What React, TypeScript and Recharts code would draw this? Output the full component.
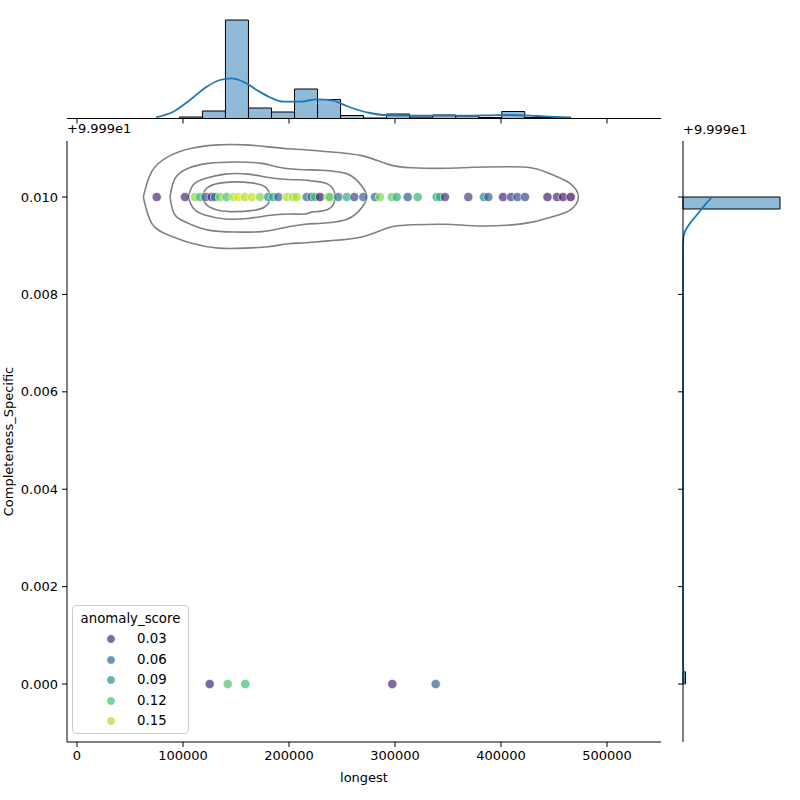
import React from "react";
import { ComposedChart, Scatter, Line, Bar, XAxis, YAxis } from "recharts";

// Values are stored as offsets from 99.99 (the axis shows "+9.999e1")
const UPPER = 0.01;
const LOWER = 0.0;

// points at the upper level: longest + anomaly score
const upperLongest = [
  75190, 101890, 111320, 116040, 121420, 127080, 130190, 134910, 141230, 147450,
  152170, 158490, 164810, 172640, 180470, 185190, 189910, 197830, 204060, 207270,
  216700, 221420, 224530, 229250, 237080, 238680, 246510, 254440, 261610, 270100,
  281130, 285850, 296890, 301600, 311980, 321420, 339340, 342450, 347170, 369150,
  383960, 388020, 401890, 409440, 415570, 422640, 443870, 452830, 458490, 465750,
];
const upperScore = [
  0.03, 0.03, 0.14, 0.12, 0.045, 0.025, 0.08, 0.14, 0.12, 0.15,
  0.16, 0.15, 0.155, 0.14, 0.09, 0.11, 0.06, 0.15, 0.145, 0.15,
  0.06, 0.07, 0.12, 0.02, 0.14, 0.13, 0.07, 0.11, 0.045, 0.06,
  0.065, 0.14, 0.13, 0.11, 0.055, 0.115, 0.1, 0.11, 0.035, 0.04,
  0.085, 0.06, 0.03, 0.04, 0.05, 0.045, 0.025, 0.03, 0.025, 0.015,
];

// points at the lower level
const lowerLongest = [125190, 142170, 158770, 297450, 338400];
const lowerScore = [0.03, 0.125, 0.12, 0.03, 0.06];

const legendScores = [0.03, 0.06, 0.09, 0.12, 0.15];

// density contours, [longest, level] pairs going round each ring
const ring1 = [
  [62550, 0.01], [70470, 0.01052], [86130, 0.01083], [108210, 0.011], [133300, 0.01107],
  [158490, 0.01107], [180470, 0.01103], [199340, 0.01099], [215090, 0.01097], [237080, 0.01093],
  [268590, 0.01085], [293680, 0.01067], [315760, 0.0106], [347170, 0.01059], [373870, 0.01061],
  [405380, 0.01062], [430470, 0.01059], [449340, 0.01045], [465100, 0.01028], [472930, 0.01],
  [465100, 0.00973], [449340, 0.0096], [430470, 0.00949], [405380, 0.00942], [373870, 0.00941],
  [347170, 0.00944], [315760, 0.00943], [293680, 0.00937], [268590, 0.00918], [237080, 0.0091],
  [215090, 0.00906], [199340, 0.00904], [180470, 0.00898], [158490, 0.00895], [133300, 0.00895],
  [108210, 0.00905], [86130, 0.00922], [70470, 0.00946], [62550, 0.01],
];
const ring2 = [
  [87740, 0.01], [92450, 0.01038], [105000, 0.01059], [123870, 0.01069], [149060, 0.01072],
  [174250, 0.01069], [193110, 0.0106], [215090, 0.01056], [230850, 0.01055], [252830, 0.01049],
  [265380, 0.01031], [273300, 0.01], [265380, 0.0097], [252830, 0.00953], [230850, 0.00946],
  [215090, 0.00944], [193110, 0.00936], [174250, 0.00929], [149060, 0.00928], [123870, 0.00932],
  [105000, 0.00946], [92450, 0.00963], [87740, 0.01],
];
const ring3 = [
  [105000, 0.01], [109720, 0.01025], [120750, 0.01038], [139620, 0.01047], [161600, 0.01047],
  [180470, 0.0104], [199340, 0.01036], [215090, 0.01035], [221420, 0.01033], [237080, 0.01026],
  [243400, 0.01], [237080, 0.00975], [221420, 0.00969], [215090, 0.00965], [199340, 0.00965],
  [180470, 0.00962], [161600, 0.00956], [139620, 0.00955], [120750, 0.00963], [109720, 0.00977],
  [105000, 0.01],
];
const ring4 = [
  [117640, 0.01], [122360, 0.01018], [133300, 0.01028], [149060, 0.01031], [164810, 0.01029],
  [177360, 0.01021], [182080, 0.01], [177360, 0.0098], [164810, 0.00972], [149060, 0.0097],
  [133300, 0.00973], [122360, 0.00984], [117640, 0.01],
];

// marginal histogram of longest
const histStart = 74900;
const histWidth = 21720;
const histCounts = [0, 3, 15, 197, 21, 13, 59, 38, 6, 1, 9, 3, 7, 5, 2, 14, 2, 2];
const kdeX = [
  74530, 90850, 106600, 122360, 134910, 145940, 156890, 169530, 182080, 194630, 210380, 226130,
  241790, 254440, 266980, 276420, 288970, 314150, 351890, 389620, 408490, 433680, 452550, 465800,
];
const kdeDens = [
  2.4, 13.6, 37, 63.6, 77, 80.4, 73.6, 57, 42.4, 33.6, 33.6, 38.4,
  35.6, 25, 16, 11, 7, 5.6, 5.6, 6.4, 7, 5, 3, 2.4,
];

// marginal histogram of Completeness_Specific, 40 bins from 0 to 0.010
const levelStart = 0;
const levelBinWidth = 0.00025;
const levelBinCounts = [
  5, 0, 0, 0, 0, 0, 0, 0, 0, 0,
  0, 0, 0, 0, 0, 0, 0, 0, 0, 0,
  0, 0, 0, 0, 0, 0, 0, 0, 0, 0,
  0, 0, 0, 0, 0, 0, 0, 0, 0, 194,
];
const levelKdeY = [0, 0.0003, 0.0006, 0.0085, 0.0088, 0.00915, 0.00929, 0.00946, 0.00963, 0.00984, 0.01];
const levelKdeDens = [1.4, 0.6, 0, 0, 0, 0.6, 4, 14, 27.4, 44, 58];

const xTicks = [0, 100000, 200000, 300000, 400000, 500000];
const yTicks = [0, 0.002, 0.004, 0.006, 0.008, 0.01];

const X_MIN = -9430;
const X_MAX = 550950;
const Y_MIN = -0.00119;
const Y_MAX = 0.01115;
const PLOT_W = 594;
const PLOT_H = 601;
const COUNT_MAX = 200;

const FONT = "DejaVu Sans";

const VIRIDIS = [
  "#440154", "#482475", "#414487", "#355f8d", "#2a788e", "#21918c",
  "#22a884", "#44bf70", "#7ad151", "#bddf26", "#fde725",
];
const SCORE_MIN = 0.011;
const SCORE_MAX = 0.169;

function viridis(score: number) {
  let t = (score - SCORE_MIN) / (SCORE_MAX - SCORE_MIN);
  t = Math.max(0, Math.min(1, t));
  const p = t * (VIRIDIS.length - 1);
  const i = Math.min(Math.floor(p), VIRIDIS.length - 2);
  const f = p - i;
  const a = VIRIDIS[i], b = VIRIDIS[i + 1];
  const ch = (h: string, k: number) => parseInt(h.slice(1 + k * 2, 3 + k * 2), 16);
  const mix = [0, 1, 2].map((k) => Math.round(ch(a, k) + (ch(b, k) - ch(a, k)) * f));
  return `rgb(${mix[0]},${mix[1]},${mix[2]})`;
}

const points = [
  ...upperLongest.map((x, i) => ({ x, y: UPPER, score: upperScore[i] })),
  ...lowerLongest.map((x, i) => ({ x, y: LOWER, score: lowerScore[i] })),
];
const toRing = (r: number[][]) => r.map(([x, y]) => ({ x, y }));
const rings = [ring1, ring2, ring3, ring4].map(toRing);

const histData = histCounts.map((count, i) => ({ bin: `b${i}`, count }));
const kdeData = kdeX.map((x, i) => ({ x, dens: kdeDens[i] }));
const levelHist = levelBinCounts.map((count, i) => ({ bin: `b${i}`, count }));
const levelKde = levelKdeY.map((y, i) => ({ y, dens: levelKdeDens[i] }));

// the bin bands sit on hidden category axes, padded so they line up with the value axes
const histPad = {
  left: ((histStart - X_MIN) * PLOT_W) / (X_MAX - X_MIN),
  right: ((X_MAX - (histStart + histCounts.length * histWidth)) * PLOT_W) / (X_MAX - X_MIN),
};
const levelPad = {
  top: ((Y_MAX - (levelStart + levelBinCounts.length * levelBinWidth)) * PLOT_H) / (Y_MAX - Y_MIN),
  bottom: ((levelStart - Y_MIN) * PLOT_H) / (Y_MAX - Y_MIN),
};

const tickStyle = { fill: "#000", fontSize: 13, fontFamily: FONT };

const Dot = (props: any) => (
  <circle
    cx={props.cx}
    cy={props.cy}
    r={4.6}
    fill={viridis(props.payload.score)}
    fillOpacity={0.7}
    stroke="#fff"
    strokeOpacity={0.7}
    strokeWidth={0.8}
  />
);

const layer: React.CSSProperties = { position: "absolute", left: 0, top: 0 };

export default function App() {
  return (
    <div style={{ position: "absolute", left: 0, top: 0, width: 800, height: 800, background: "#fff", fontFamily: FONT }}>
      {/* top marginal: histogram of longest */}
      <div style={layer}>
        <ComposedChart
          width={800}
          height={800}
          data={histData}
          barCategoryGap={0}
          margin={{ top: 18.5, right: 139, bottom: 671.5, left: 67 }}
        >
          <XAxis
            xAxisId="num"
            type="number"
            dataKey="x"
            domain={[X_MIN, X_MAX]}
            ticks={xTicks}
            tickFormatter={() => ""}
            tickSize={5}
            height={10}
            stroke="#000"
            allowDataOverflow
          />
          <XAxis xAxisId="bins" type="category" dataKey="bin" hide height={0} padding={histPad} />
          <YAxis hide type="number" domain={[0, COUNT_MAX]} />
          <Bar
            xAxisId="bins"
            dataKey="count"
            fill="#1f77b4"
            fillOpacity={0.5}
            stroke="#000"
            strokeWidth={1}
            isAnimationActive={false}
          />
          <Line
            xAxisId="num"
            data={kdeData}
            dataKey="dens"
            type="monotone"
            stroke="#1f77b4"
            strokeWidth={1.8}
            dot={false}
            activeDot={false}
            isAnimationActive={false}
          />
        </ComposedChart>
      </div>

      {/* right marginal: histogram of Completeness_Specific */}
      <div style={layer}>
        <ComposedChart
          layout="vertical"
          width={800}
          height={800}
          data={levelHist}
          barCategoryGap={0}
          margin={{ top: 141, right: 17, bottom: 58, left: 673 }}
        >
          <XAxis hide type="number" domain={[0, COUNT_MAX]} />
          <YAxis
            yAxisId="num"
            type="number"
            dataKey="y"
            domain={[Y_MIN, Y_MAX]}
            ticks={yTicks}
            tickFormatter={() => ""}
            tickSize={5}
            width={10}
            stroke="#000"
            reversed
            allowDataOverflow
          />
          <YAxis yAxisId="bins" type="category" dataKey="bin" hide width={0} reversed padding={levelPad} />
          <Bar
            yAxisId="bins"
            dataKey="count"
            fill="#1f77b4"
            fillOpacity={0.5}
            stroke="#000"
            strokeWidth={1}
            isAnimationActive={false}
          />
          <Line
            yAxisId="num"
            data={levelKde}
            dataKey="dens"
            type="monotone"
            stroke="#1f77b4"
            strokeWidth={1.8}
            dot={false}
            activeDot={false}
            isAnimationActive={false}
          />
        </ComposedChart>
      </div>

      {/* joint scatter with density contours */}
      <div style={layer}>
        <ComposedChart width={800} height={800} margin={{ top: 141, right: 139, bottom: 28, left: 7 }}>
          <XAxis
            type="number"
            dataKey="x"
            domain={[X_MIN, X_MAX]}
            ticks={xTicks}
            tick={tickStyle}
            tickSize={5}
            tickMargin={4}
            height={30}
            stroke="#000"
            allowDataOverflow
            label={(p: any) => (
              <text
                x={p.viewBox.x + p.viewBox.width / 2}
                y={p.viewBox.y + 35}
                textAnchor="middle"
                dominantBaseline="central"
                fontSize={13}
                fontFamily={FONT}
                fill="#000"
              >
                longest
              </text>
            )}
          />
          <YAxis
            type="number"
            dataKey="y"
            domain={[Y_MIN, Y_MAX]}
            ticks={yTicks}
            tick={tickStyle}
            tickFormatter={(v: number) => v.toFixed(3)}
            tickSize={5}
            tickMargin={4}
            width={60}
            stroke="#000"
            allowDataOverflow
            label={(p: any) => {
              const cy = p.viewBox.y + p.viewBox.height / 2;
              return (
                <text
                  x={8}
                  y={cy}
                  transform={`rotate(-90 8 ${cy})`}
                  textAnchor="middle"
                  dominantBaseline="central"
                  fontSize={13}
                  fontFamily={FONT}
                  fill="#000"
                >
                  Completeness_Specific
                </text>
              );
            }}
          />
          <Scatter data={points} shape={Dot} isAnimationActive={false} />
          {rings.map((ring, i) => (
            <Line
              key={i}
              data={ring}
              dataKey="y"
              type="natural"
              stroke="#808080"
              strokeWidth={1.6}
              dot={false}
              activeDot={false}
              isAnimationActive={false}
            />
          ))}
        </ComposedChart>
      </div>

      {/* axis offset texts */}
      <div style={{ position: "absolute", left: 67, top: 120, fontSize: 13, lineHeight: "18px" }}>+9.999e1</div>
      <div style={{ position: "absolute", left: 683, top: 121, fontSize: 13, lineHeight: "18px" }}>+9.999e1</div>

      {/* hue legend */}
      <div
        style={{
          position: "absolute",
          left: 72,
          top: 605,
          width: 117,
          height: 129,
          boxSizing: "border-box",
          border: "1px solid #cccccc",
          borderRadius: 4,
          background: "rgba(255,255,255,0.8)",
          fontSize: 13.3,
        }}
      >
        <div style={{ position: "absolute", left: 0, right: 0, top: 4, textAlign: "center", lineHeight: "18px" }}>
          anomaly_score
        </div>
        {legendScores.map((s, i) => (
          <div key={s} style={{ position: "absolute", left: 0, top: 24 + i * 20.6, height: 18, width: "100%" }}>
            <svg width={20} height={18} style={{ position: "absolute", left: 28, top: 0 }}>
              <circle cx={10} cy={9} r={4.2} fill={viridis(s)} fillOpacity={0.7} stroke="#fff" strokeOpacity={0.7} strokeWidth={0.8} />
            </svg>
            <span style={{ position: "absolute", left: 64, top: 0, lineHeight: "18px" }}>{s.toFixed(2)}</span>
          </div>
        ))}
      </div>
    </div>
  );
}
